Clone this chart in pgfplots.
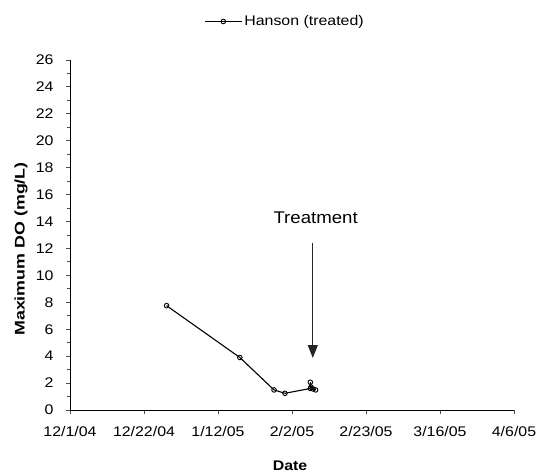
\documentclass[border=0pt]{standalone}
\usepackage{pgfplots}
\pgfplotsset{compat=1.18}
\usetikzlibrary{arrows.meta}
\usepackage{fontspec}
\setmainfont[FakeStretch=1.14]{Liberation Sans}
\newfontfamily\ylabfont[FakeStretch=1.28]{Liberation Sans}
\newfontfamily\treatfont[FakeStretch=1.1]{Liberation Sans}
\begin{document}
\begin{tikzpicture}[x=1bp,y=1bp]
\path[use as bounding box] (-70,-66) rectangle (469,410);
\begin{axis}[
  at={(0,0)}, anchor=south west,
  scale only axis, width=444bp, height=350bp,
  xmin=0, xmax=126, ymin=0, ymax=26,
  axis lines*=left,
  axis line style={black, line width=0.9bp},
  xtick={0,21,42,63,84,105,126},
  xticklabels={12/1/04,12/22/04,1/12/05,2/2/05,2/23/05,3/16/05,4/6/05},
  ytick={0,2,...,26}, minor y tick num=1,
  tick align=outside,
  major tick length=4bp, minor tick length=3bp,
  tick style={black!70, line width=0.9bp},
  /pgf/number format/assume math mode=true,
  ticklabel style={font=\fontsize{14}{16}\selectfont},
  xticklabel shift=9bp,
  yticklabel shift=9bp,
  clip=false,
  legend style={at={(0.302,1.11)}, anchor=west, draw=none, fill=none,
    font=\fontsize{14}{16}\selectfont, inner sep=0pt},
  legend image code/.code={\draw[#1, mark repeat=2, mark phase=2] plot coordinates {(0bp,0bp) (18.5bp,0bp) (37bp,0bp)};},
]
\addplot[black, line width=1.1bp, mark=o, mark size=2.3bp, mark options={solid, fill=white, line width=0.9bp}]
  coordinates {
  (27.4,7.75) (48.2,3.9) (57.9,1.49) (61.0,1.24)
  (68.2,1.6) (68.2,2.06) (68.4,1.7) (69.0,1.56) (69.7,1.49)
  };
\addlegendentry{Hanson (treated)}
\draw[black!85, line width=1.3bp, -{Triangle[width=10bp,length=13bp]}]
  (axis cs:68.9,12.43) -- (axis cs:68.9,3.86);
\node[anchor=base, inner sep=0pt, font=\treatfont\fontsize{17}{19}\selectfont]
  at (axis cs:69.7,13.82) {Treatment};
\end{axis}
\node[font=\bfseries\fontsize{14}{16}\selectfont] at (220,-56) {Date};
\node[rotate=90, font=\ylabfont\bfseries\fontsize{14}{16}\selectfont] at (-49,161) {Maximum DO (mg/L)};
\end{tikzpicture}
\end{document}
